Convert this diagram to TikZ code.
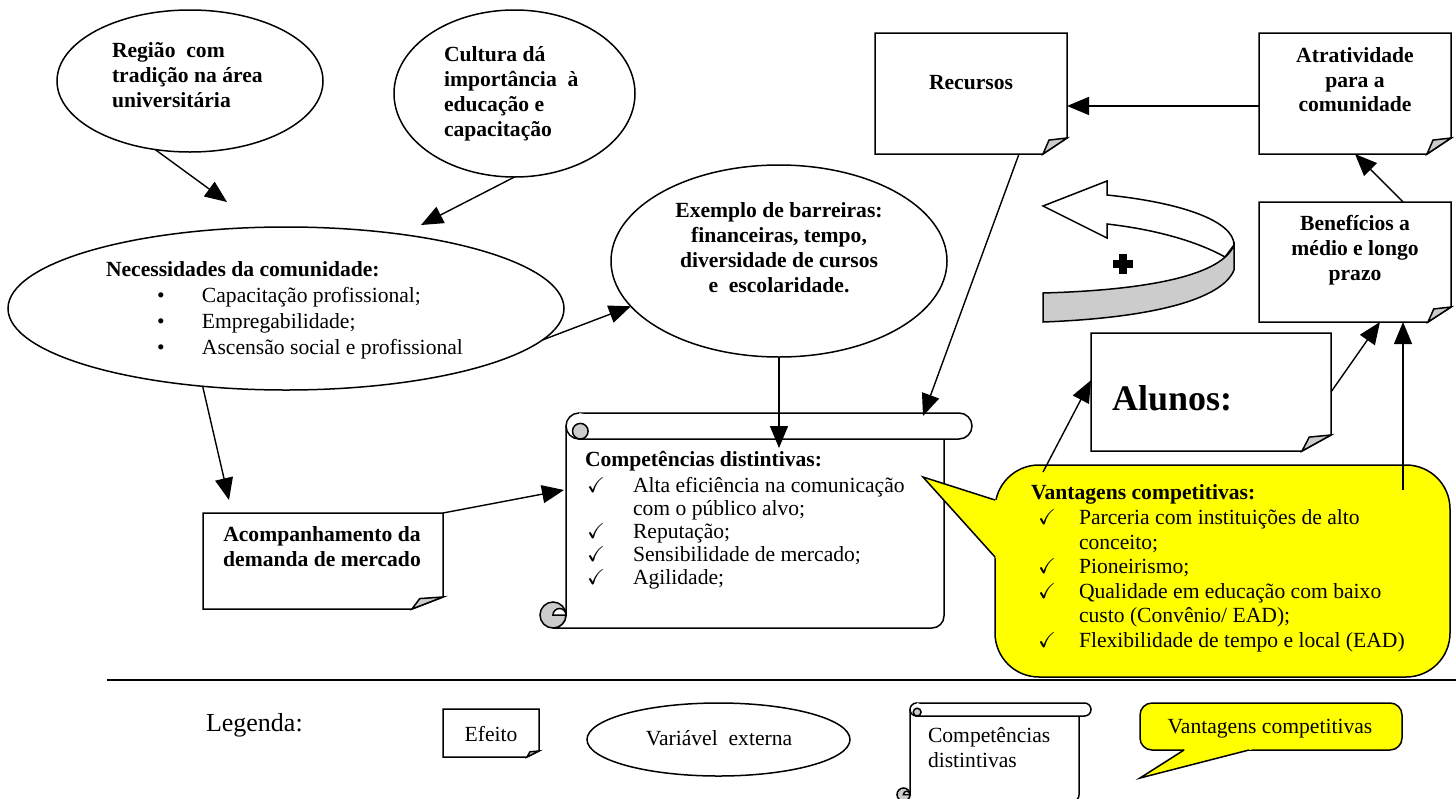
\documentclass[tikz,border=0pt]{standalone}
\usepackage{fontspec}
\setmainfont{Liberation Serif}
\usepackage{amssymb}
\usetikzlibrary{arrows.meta,calc,shapes.geometric}
\definecolor{foldgray}{HTML}{CCCCCC}
\definecolor{calloutyellow}{HTML}{FFFF00}
\newcommand{\bfont}{\fontsize{10.8}{12.5}\selectfont}
\newcommand{\ckm}[1]{\makebox[#1][l]{$\checkmark$}}
\newcommand{\bul}{\hspace*{25.5pt}\makebox[22.5pt][l]{\textbullet}}
% folded-corner box drawn on a named node: #1 node, #2 dx, #3 dy (px)
\newcommand{\dogear}[3]{%
  \filldraw[outl] (#1.north west) -- (#1.north east) -- ($(#1.south east)+(0,-#3)$) -- ($(#1.south east)+(-#2,0)$) -- (#1.south west) -- cycle;
  \filldraw[outl, fill=foldgray] ($(#1.south east)+(-#2,0)$) -- ($(#1.south east)+({-0.75*#2},{-0.87*#3})$) -- ($(#1.south east)+(0,-#3)$) -- cycle;
}
% vertical scroll: #1 L, #2 T, #3 R, #4 bottom, #5 band end, #6 curl r, #7 corner r
\newcommand{\vscroll}[7]{%
  \filldraw[outl] (#1,{#2+#6}) -- (#1,{#4-#6}) arc[start angle=0,end angle=90,radius=#6] -- ({#3-#7},#4) arc[start angle=90,end angle=0,radius=#7] -- (#3,{#2+2*#6}) -- ({#1+#6},{#2+2*#6});
  \filldraw[outl] ({#1+#6},#2) -- ({#5-#6},#2) arc[start angle=-90,end angle=90,radius=#6] -- ({#1+#6},{#2+2*#6}) -- cycle;
  \fill[white] ({#1+#6},{#2+#6}) circle[radius=#6];
  \draw[line width=0.75pt] ({#1+#6},#2) arc[start angle=-90,end angle=-270,radius=#6];
  \filldraw[outl, fill=foldgray] ({#1+1.1*#6},{#2+1.4*#6}) circle[radius={0.6*#6}];
  \filldraw[outl, fill=foldgray] ({#1-#6},{#4-#6}) circle[radius=#6];
  \filldraw[outl] (#1,{#4-#6}) arc[start angle=0,end angle=-180,radius={0.5*#6}] -- cycle;
}
\begin{document}
\begin{tikzpicture}[x=0.5pt,y=-0.5pt,
  outl/.style={draw=black, line width=0.75pt, fill=white},
  box/.style={rectangle, inner sep=0pt, outer sep=0pt},
  ell/.style={ellipse, draw=black, line width=0.75pt, fill=white, inner sep=0pt, outer sep=0pt},
  txt/.style={inner sep=0pt, outer sep=0pt, font=\bfont},
  btxt/.style={inner sep=0pt, outer sep=0pt, font=\bfont\bfseries},
  arr/.style={draw=black, line width=0.7pt, -{Triangle[length=11pt,width=9pt]}}]

\useasboundingbox (0,0) rectangle (1456,798);
\clip (0,0) rectangle (1456,798);

% ---------------- external variables (ellipses)
\node[ell, minimum width=133pt, minimum height=71pt] (regiao) at (190,81) {};
\node[btxt, anchor=north west, align=left] (regiaoT) at (112,42) {Região\ \ com\\tradição na área\\universitária};

\node[ell, minimum width=120.5pt, minimum height=83.5pt] (cultura) at (514.5,93.5) {};
\node[btxt, anchor=north west, align=left] (culturaT) at (444,46) {Cultura dá\\importância\ \ à\\educação e\\capacitação};

\node[ell, minimum width=278pt, minimum height=81.5pt] (nec) at (286,308.5) {};
\node[txt, anchor=north west, align=left, font=\fontsize{10.8}{12.85}\selectfont] (necT) at (106,262)
  {\textbf{Necessidades da comunidade:}\\
   \bul Capacitação profissional;\\
   \bul Empregabilidade;\\
   \bul Ascensão social e profissional};

\node[ell, minimum width=168pt, minimum height=96pt] (barr) at (779,261) {};
\node[btxt, anchor=north, align=center, font=\fontsize{10.8}{12.4}\selectfont\bfseries] (barrT) at (779,203)
  {Exemplo de barreiras:\\financeiras, tempo,\\diversidade de cursos\\e\ \ escolaridade.};

% ---------------- effects (folded boxes)
\node[box, minimum width=96pt, minimum height=60.5pt] (rec) at (971,93.5) {};
\dogear{rec}{24}{16}
\node[btxt] (recT) at (971,83) {Recursos};

\node[box, minimum width=96pt, minimum height=60.5pt] (atr) at (1355,93.5) {};
\dogear{atr}{24}{16}
\node[btxt, anchor=north, align=center, font=\fontsize{10.8}{12.25}\selectfont\bfseries] (atrT) at (1355,48) {Atratividade\\para a\\comunidade};

\node[box, minimum width=96pt, minimum height=60pt] (ben) at (1355,262) {};
\dogear{ben}{23}{15}
\node[btxt, anchor=north, align=center, font=\fontsize{10.8}{12.6}\selectfont\bfseries] (benT) at (1355,215) {Benefícios a\\médio e longo\\prazo};

\node[box, minimum width=120pt, minimum height=59pt] (alu) at (1211,392) {};
\dogear{alu}{29}{16}
\node[txt, font=\fontsize{18}{20}\selectfont\bfseries, anchor=west] (aluT) at (1112,398) {Alunos:};

\node[box, minimum width=120pt, minimum height=48pt] (aco) at (323,561) {};
\dogear{aco}{31}{12}
\node[btxt, anchor=north, align=center] (acoT) at (322,527) {Acompanhamento da\\demanda de mercado};

% ---------------- distinctive competences (scroll)
\vscroll{566}{413}{944}{628}{972}{13}{12}
\node[btxt, anchor=north west] (compT) at (585,451) {Competências distintivas:};
\node[txt, anchor=north west, align=left, font=\fontsize{10.8}{11.5}\selectfont] (compL) at (587,477)
  {\ckm{23pt}Alta eficiência na comunicação\\
   \hspace*{23pt}com o público alvo;\\
   \ckm{23pt}Reputação;\\
   \ckm{23pt}Sensibilidade de mercado;\\
   \ckm{23pt}Agilidade;};

% ---------------- competitive advantages (callout)
\node[box, draw=black, line width=0.75pt, fill=calloutyellow, rounded corners=22pt, minimum width=227.5pt, minimum height=106pt] (vant) at (1222.5,571) {};
\fill[calloutyellow] (923,477) -- (1003,502) -- (1003,566) -- cycle;
\draw[line width=0.75pt, line join=miter] (995,500) -- (923,477) -- (995,557);
\node[btxt, anchor=north west] (vantT) at (1031,485) {Vantagens competitivas:};
\node[txt, anchor=north west, align=left, font=\fontsize{10.8}{12.25}\selectfont] (vantL) at (1038,510)
  {\ckm{20.5pt}Parceria com instituições de alto\\
   \hspace*{20.5pt}conceito;\\
   \ckm{20.5pt}Pioneirismo;\\
   \ckm{20.5pt}Qualidade em educação com baixo\\
   \hspace*{20.5pt}custo (Convênio/ EAD);\\
   \ckm{20.5pt}Flexibilidade de tempo e local (EAD)};

% ---------------- curved "+" arrow
\filldraw[outl, fill=foldgray] (1043,293) .. controls (1150,290) and (1222,275) .. (1234,245) -- (1234,270) .. controls (1222,300) and (1150,318) .. (1043,322) -- cycle;
\filldraw[outl] (1043,206) -- (1107,181) -- (1107,195) .. controls (1185,203) and (1234,222) .. (1234,245) -- (1225,257) .. controls (1200,243) and (1160,230) .. (1107,224) -- (1107,238) -- cycle;
\fill (1118.5,254) rectangle (1126.5,274);
\fill (1112.5,260) rectangle (1132.5,268);

% ---------------- connectors
\coordinate (t1) at (227,202);
\draw[arr] (regiao.243) -- (t1);
\coordinate (t2) at (421,225);
\draw[arr] (cultura.south) -- (t2);
\coordinate (t3) at (229,500);
\draw[arr] (nec.223) -- (t3);
\coordinate (t4) at (564,490);
\draw[arr] (aco.north east) -- (t4);
\draw[arr] (nec.-7) -- (barr.197);
\coordinate (t6) at (779,448);
\draw[arr] (barr.south) -- (t6);
\coordinate (t7) at (923,416);
\draw[arr] ($(rec.south west)!0.75!(rec.south east)$) -- (t7);
\coordinate (s8) at ($(atr.north west)!0.603!(atr.south west)$);
\draw[arr] (s8) -- (rec.east |- s8);
\draw[arr] ($(ben.north west)!0.75!(ben.north east)$) -- (atr.south);
\draw[arr] (alu.east) -- ($(ben.south west)!0.63!(ben.south east)$);
\coordinate (s11) at (1403,490);
\draw[arr] (s11) -- ($(ben.south west)!0.75!(ben.south east)$);
\coordinate (s12) at (1043,472);
\draw[arr] (s12) -- ($(alu.north west)!0.4!(alu.south west)$);

% ---------------- legend
\draw[line width=1pt] (107,680) -- (1456,680);
\node[txt, font=\fontsize{13}{15}\selectfont, anchor=west] (leg) at (206,725) {Legenda:};

\node[box, minimum width=48pt, minimum height=24pt] (efe) at (491,733) {};
\dogear{efe}{12}{6}
\node[txt] (efeT) at (491,734) {Efeito};

\node[ell, minimum width=131.5pt, minimum height=36.5pt] (varx) at (718.5,739.5) {};
\node[txt] (varxT) at (719,738) {Variável\ \ externa};

\vscroll{910}{703}{1079}{801}{1091}{6.5}{6}
\node[txt, anchor=north west, align=left] (legcT) at (928,727) {Competências\\distintivas};

\node[box, draw=black, line width=0.75pt, fill=calloutyellow, rounded corners=6pt, minimum width=131pt, minimum height=23.5pt] (legv) at (1271,726.5) {};
\fill[calloutyellow] (1140,778) -- (1190,746) -- (1265,746) -- cycle;
\draw[line width=0.75pt, line join=miter] (1184,750) -- (1140,778) -- (1249,750);
\node[txt] (legvT) at (1270,729) {Vantagens competitivas};
\end{tikzpicture}
\end{document}
